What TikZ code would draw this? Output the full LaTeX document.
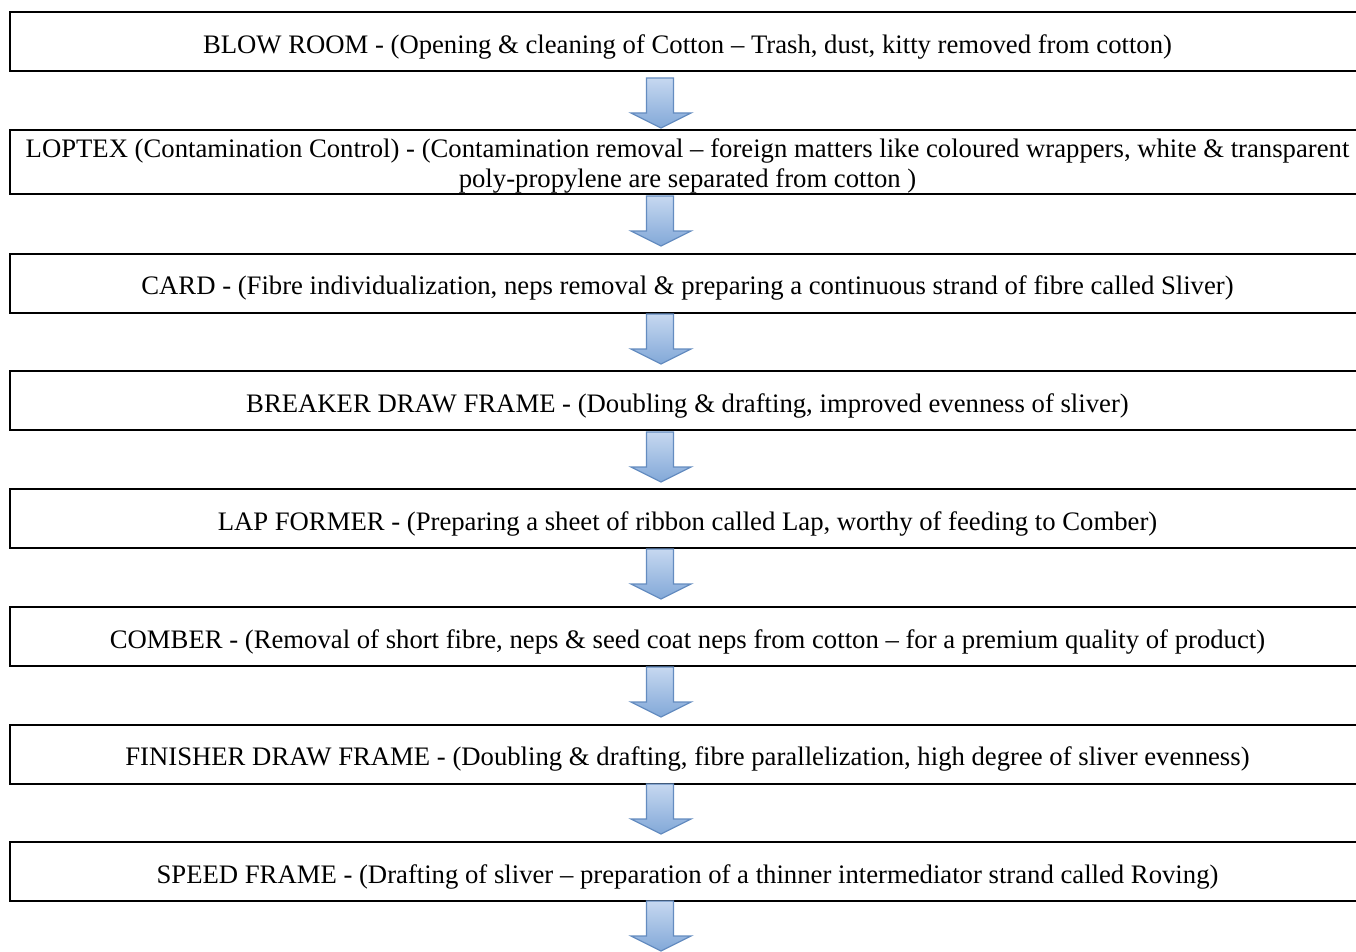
\documentclass[tikz,border=0pt]{standalone}
\usepackage{fontspec}
\setmainfont{Liberation Serif}
\usetikzlibrary{calc}
\definecolor{arrowedge}{RGB}{100,140,192}
\definecolor{arrowtop}{RGB}{198,216,240}
\definecolor{arrowbot}{RGB}{130,168,216}
\tikzset{
  box/.style={draw=black, line width=2pt, anchor=north west, minimum width=1355pt, inner sep=0pt, outer sep=0pt},
  lbl/.style={anchor=base, inner sep=0pt, font=\fontsize{26.7}{30}\selectfont},
  farrow/.style={draw=arrowedge, line width=1.3pt, top color=arrowtop, bottom color=arrowbot, line join=miter},
}
\newcommand\flowarrow[1]{%
  \shadedraw[farrow] ($#1+(-13.5,0)$) -- ++(27,0) -- ++(0,35) -- ++(17.5,0)
     -- ++(-30,15) -- ++(-30,-15) -- ++(15.5,0) -- cycle;}
\begin{document}
\begin{tikzpicture}[x=1pt,y=-1pt]
\useasboundingbox (0,0) rectangle (1356,952);
\fill[white] (0,0) rectangle (1356,952);
\clip (0,0) rectangle (1356,952);
\coordinate (ax) at (660,0);
% boxes
\node[box, minimum height=59pt] (b1) at (10,12.5) {};
\node[box, minimum height=63pt] (b2) at (10,130.5) {};
\node[box, minimum height=59pt] (b3) at (10,253.5) {};
\node[box, minimum height=59pt] (b4) at (10,371) {};
\node[box, minimum height=59pt] (b5) at (10,489) {};
\node[box, minimum height=59pt] (b6) at (10,607) {};
\node[box, minimum height=59pt] (b7) at (10,724.5) {};
\node[box, minimum height=59pt] (b8) at (10,842) {};
% texts
\node[lbl] (t1) at ($(b1.center)+(0,11.5)$) {BLOW ROOM - (Opening \& cleaning of Cotton – Trash, dust, kitty removed from cotton)};
\node[lbl] (t2a) at ($(b2.north)+(0,27)$) {LOPTEX (Contamination Control) - (Contamination removal – foreign matters like coloured wrappers, white \& transparent};
\node[lbl] (t2b) at ($(t2a.base)+(0,30)$) {poly-propylene are separated from cotton )};
\node[lbl] (t3) at ($(b3.center)+(0,11.5)$) {CARD - (Fibre individualization, neps removal \& preparing a continuous strand of fibre called Sliver)};
\node[lbl] (t4) at ($(b4.center)+(0,11.5)$) {BREAKER DRAW FRAME - (Doubling \& drafting, improved evenness of sliver)};
\node[lbl] (t5) at ($(b5.center)+(0,11.5)$) {LAP FORMER - (Preparing a sheet of ribbon called Lap, worthy of feeding to Comber)};
\node[lbl] (t6) at ($(b6.center)+(0,11.5)$) {COMBER - (Removal of short fibre, neps \& seed coat neps from cotton – for a premium quality of product)};
\node[lbl] (t7) at ($(b7.center)+(0,11.5)$) {FINISHER DRAW FRAME - (Doubling \& drafting, fibre parallelization, high degree of sliver evenness)};
\node[lbl] (t8) at ($(b8.center)+(0,11.5)$) {SPEED FRAME - (Drafting of sliver – preparation of a thinner intermediator strand called Roving)};
% arrows
\flowarrow{(b1.south -| ax)+(0,6.5)}
\flowarrow{(b2.south -| ax)+(0,2.5)}
\flowarrow{(b3.south -| ax)+(0,1.5)}
\flowarrow{(b4.south -| ax)+(0,2)}
\flowarrow{(b5.south -| ax)+(0,1)}
\flowarrow{(b6.south -| ax)+(0,1)}
\flowarrow{(b7.south -| ax)+(0,0.5)}
\flowarrow{(b8.south -| ax)+(0,0)}
\end{tikzpicture}
\end{document}
